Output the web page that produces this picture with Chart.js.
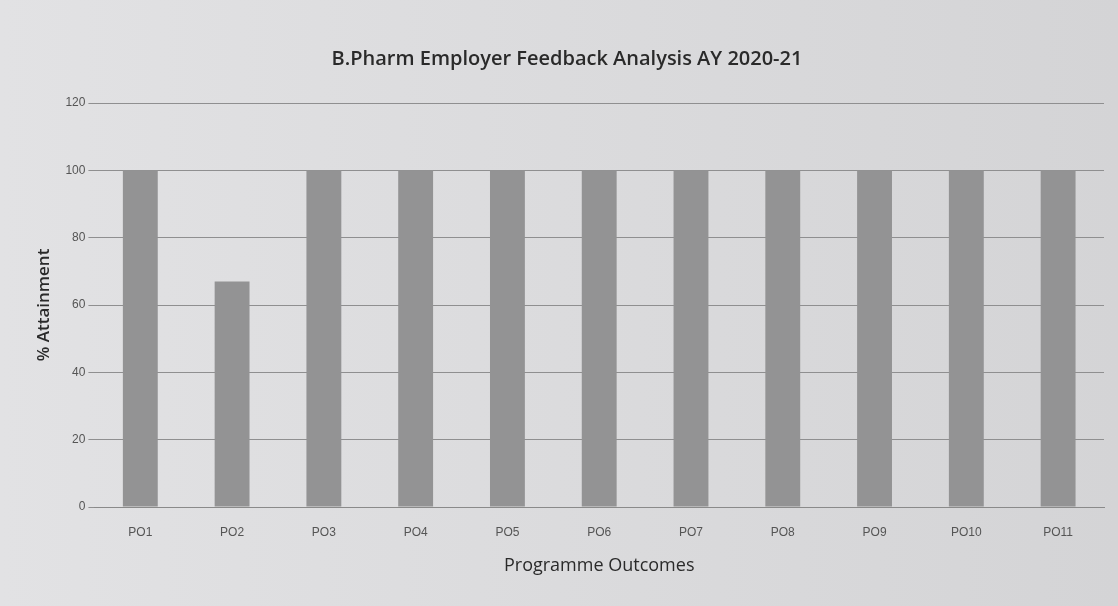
<!DOCTYPE html>
<html>
<head>
<meta charset="utf-8">
<script src="https://cdn.jsdelivr.net/npm/chart.js@4"></script>
<style>
  html, body { margin: 0; padding: 0; background: #d9d9db; }
  #wrap { width: 1118px; height: 606px; }
</style>
</head>
<body>
<div id="wrap"><canvas id="poChart" width="1118" height="606"></canvas></div>
<script>
// data
const outcomes = ["PO1", "PO2", "PO3", "PO4", "PO5", "PO6", "PO7", "PO8", "PO9", "PO10", "PO11"];
const attainment = [100, 67, 100, 100, 100, 100, 100, 100, 100, 100, 100];
const yTicks = [0, 20, 40, 60, 80, 100, 120];

// paper coloured background behind the chart
const paperBg = {
  id: "paperBg",
  beforeDraw(chart) {
    const ctx = chart.ctx;
    const g = ctx.createLinearGradient(0, 0, chart.width, 0);
    g.addColorStop(0, "#e2e2e4");
    g.addColorStop(1, "#d4d4d6");
    ctx.save();
    ctx.fillStyle = g;
    ctx.fillRect(0, 0, chart.width, chart.height);
    ctx.restore();
  }
};

const ctx = document.getElementById("poChart").getContext("2d");
new Chart(ctx, {
  type: "bar",
  data: {
    labels: outcomes,
    datasets: [{
      label: "% Attainment",
      data: attainment,
      backgroundColor: "#939394",
      borderWidth: 0,
      barPercentage: 0.76,
      categoryPercentage: 0.5
    }]
  },
  options: {
    responsive: false,
    animation: false,
    layout: { padding: { left: 30, right: 14, top: 47, bottom: 25 } },
    plugins: {
      legend: { display: false },
      tooltip: { enabled: false },
      title: {
        display: true,
        text: "B.Pharm Employer Feedback Analysis AY 2020-21",
        color: "#2a2a2a",
        font: { family: "Open Sans", size: 20, weight: "600" },
        padding: { top: 0, bottom: 32 }
      }
    },
    scales: {
      x: {
        grid: { display: false, drawTicks: true },
        border: { color: "#8a8a8a" },
        ticks: { color: "#555", font: { family: "Liberation Sans", size: 12 }, padding: 10 },
        title: {
          display: true,
          text: "Programme Outcomes",
          color: "#2a2a2a",
          font: { family: "Open Sans", size: 18 },
          padding: { top: 6 }
        }
      },
      y: {
        min: 0,
        max: 120,
        afterBuildTicks(axis) { axis.ticks = yTicks.map(v => ({ value: v })); },
        grid: { color: "#8f8f90", tickLength: 6 },
        border: { display: false },
        ticks: { color: "#555", font: { family: "Liberation Sans", size: 12 }, padding: 3 },
        title: {
          display: true,
          text: "% Attainment",
          color: "#2a2a2a",
          font: { family: "Open Sans", size: 17, weight: "600" },
          padding: { bottom: 8 }
        }
      }
    }
  },
  plugins: [paperBg]
});
</script>
</body>
</html>
